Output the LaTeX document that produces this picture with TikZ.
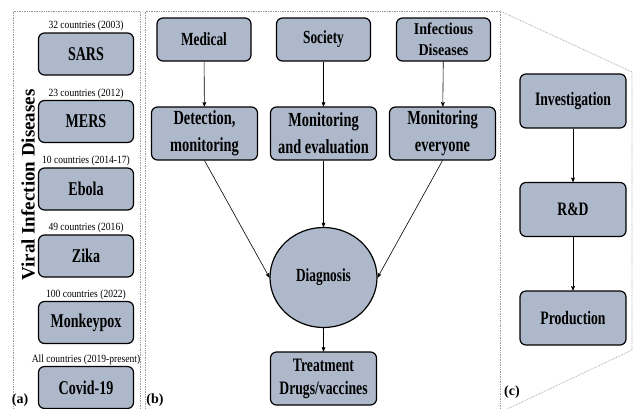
\documentclass[tikz,border=0pt]{standalone}
\usepackage{fontspec}
\setmainfont{Liberation Serif}
\newfontfamily\boxfont[FakeStretch=0.72]{Liberation Serif}
\newfontfamily\infont[FakeStretch=0.85]{Liberation Serif}
\newfontfamily\cntfont[FakeStretch=0.87]{Liberation Serif}
\usepackage{tikz}
\usetikzlibrary{arrows,positioning,shapes.geometric}

\definecolor{boxfill}{HTML}{ADB9CA}
\definecolor{framegray}{HTML}{9A9A9A}

\begin{document}
\begin{tikzpicture}[->,>=stealth',semithick,x=1pt,y=-1pt,
    rbox/.style={draw,line width=1.2pt,fill=boxfill,rounded corners=6pt,align=center,
        inner sep=2pt,font=\boxfont\bfseries\fontsize{19.5}{26}\selectfont},
    virus/.style={rbox,minimum width=95pt,minimum height=42pt},
    topbox/.style={rbox,minimum width=94pt,minimum height=43pt,font=\boxfont\bfseries\fontsize{18.5}{21}\selectfont},
    midbox/.style={rbox,minimum width=106pt,minimum height=53pt,font=\boxfont\bfseries\fontsize{20}{27}\selectfont},
    panel/.style={-,draw=framegray,densely dotted,line width=0.7pt},
    tag/.style={font=\bfseries\fontsize{14}{16}\selectfont,inner sep=0pt},
    every label/.style={font=\cntfont\fontsize{11}{13}\selectfont,inner sep=1pt}]

    \useasboundingbox (0,0) rectangle (634,408);

    % frames of the three panels
    \draw[panel] (13,410) -- (13,11) -- (140,11) -- (140,410);
    \draw[panel] (145,410) -- (145,11) -- (500,11) -- (500,410);
    \draw[panel] (500,11) -- (632,72) -- (632,350) -- (505,410);

    \node[tag](ta) at (20,400) {(a)};
    \node[tag](tb) at (155,400) {(b)};
    \node[tag](tc) at (512,392) {(c)};

    % (a) viral infections
    \node[rotate=90,font=\bfseries\fontsize{19}{21}\selectfont](title) at (28,185) {Viral Infection Diseases};

    \node[virus,label=above:{32 countries (2003)}](sars) at (86,54) {SARS};
    \node[virus,label=above:{23 countries (2012)}](mers) at (86,121.5) {MERS};
    \node[virus,label=above:{10 countries (2014-17)}](ebola) at (86,189) {Ebola};
    \node[virus,label=above:{49 countries (2016)}](zika) at (86,256) {Zika};
    \node[virus,label=above:{100 countries (2022)}](mpox) at (86,322.5) {Monkeypox};
    \node[virus,label=above:{All countries (2019-present)}](covid) at (86,387.5) {Covid-19};

    % (b) diagnosis
    \node[topbox](med) at (204,39.5) {Medical};
    \node[topbox](soc) at (323.5,39.5) {Society};
    \node[topbox,font=\infont\bfseries\fontsize{16.5}{21}\selectfont](inf) at (443.5,39.5) {Infectious\\Diseases};

    \node[midbox](det) at (204.5,133.5) {Detection,\\monitoring};
    \node[midbox](mon) at (323.5,133.5) {Monitoring\\and evaluation};
    \node[midbox](every) at (442.5,133.5) {Monitoring\\everyone};

    \node[ellipse,draw,line width=1.2pt,fill=boxfill,minimum width=107pt,minimum height=100pt,
        font=\boxfont\bfseries\fontsize{18.5}{25}\selectfont](diag) at (323.5,277.5) {Diagnosis};

    \node[midbox,font=\boxfont\bfseries\fontsize{19}{23}\selectfont](treat) at (323.5,378.5) {Treatment\\Drugs/vaccines};

    \draw (med) -- (det);
    \draw (soc) -- (mon);
    \draw (inf) -- (every);
    \draw (det.south) -- (diag.west);
    \draw (mon) -- (diag);
    \draw (every.south) -- (diag.east);
    \draw (diag) -- (treat);

    % (c) production chain
    \node[midbox,minimum height=54pt,font=\boxfont\bfseries\fontsize{19}{25}\selectfont](inv) at (573,101) {Investigation};
    \node[midbox,minimum height=54pt,font=\boxfont\bfseries\fontsize{19}{25}\selectfont](rnd) at (573,209.5) {R\&D};
    \node[midbox,minimum height=54pt,font=\boxfont\bfseries\fontsize{19}{25}\selectfont](prod) at (573,318) {Production};

    \draw (inv) -- (rnd);
    \draw (rnd) -- (prod);

\end{tikzpicture}
\end{document}
